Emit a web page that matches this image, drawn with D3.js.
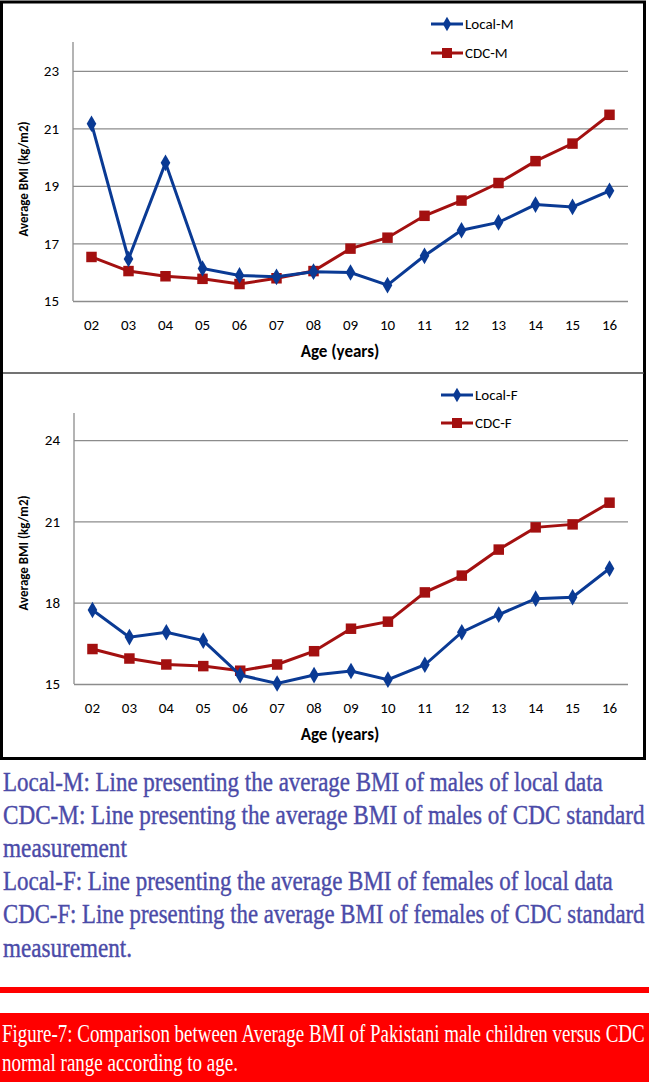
<!DOCTYPE html>
<html>
<head>
<meta charset="utf-8">
<script src="https://cdn.jsdelivr.net/npm/d3@7"></script>
<style>
  body { margin: 0; background: #fff; }
  svg { display: block; }
</style>
</head>
<body>
<div id="chart"></div>
<script>
// data
var ages = ["02","03","04","05","06","07","08","09","10","11","12","13","14","15","16"];
var localM = [21.16,16.46,19.80,16.13,15.89,15.84,16.02,15.99,15.55,16.57,17.46,17.73,18.35,18.27,18.83];
var cdcM   = [16.53,16.04,15.86,15.77,15.59,15.79,16.04,16.82,17.20,17.96,18.49,19.10,19.86,20.47,21.47];
var localF = [17.73,16.73,16.91,16.60,15.33,15.02,15.33,15.48,15.16,15.71,16.91,17.56,18.15,18.20,19.26];
var cdcF   = [16.29,15.94,15.72,15.66,15.49,15.72,16.21,17.04,17.30,18.38,19.00,19.96,20.78,20.89,21.69];
var topTicks = [15,17,19,21,23];
var bottomTicks = [15,18,21,24];

var noteLines = [
  "Local-M: Line presenting the average BMI of males of local data",
  "CDC-M: Line presenting the average BMI of males of CDC standard",
  "measurement",
  "Local-F: Line presenting the average BMI of females of local data",
  "CDC-F: Line presenting the average BMI of females of CDC standard",
  "measurement."
];
var noteWidths = [600, 642, 124, 610, 642, 129];
var captionLines = [
  "Figure-7: Comparison between Average BMI of Pakistani male children versus CDC",
  "normal range according to age."
];
var captionWidths = [643, 236];

const W = 650, H = 1082;
const blue = "#0a3a94", red = "#a31010";
const sans = "Carlito, 'Open Sans', sans-serif";
const serif = "'Liberation Serif', 'Times New Roman', serif";

const svg = d3.select("#chart").append("svg")
    .attr("width", W)
    .attr("height", H);

// frame around both charts
svg.append("rect")
    .attr("x", 1.5).attr("y", 2)
    .attr("width", 643).attr("height", 756.5)
    .attr("fill", "#fff")
    .attr("stroke", "#000")
    .attr("stroke-width", 3);

svg.append("line")
    .attr("x1", 3).attr("x2", 644)
    .attr("y1", 373).attr("y2", 373)
    .attr("stroke", "#444")
    .attr("stroke-width", 1.5);

function drawPanel(opt) {
    var g = svg.append("g");

    var x = d3.scaleBand()
        .domain(ages)
        .range([opt.left, 628]);

    var y = d3.scaleLinear()
        .domain(opt.domain)
        .range([opt.bottom, opt.top]);

    // gridlines
    g.append("g")
        .attr("transform", "translate(" + opt.left + ",0)")
        .call(d3.axisLeft(y).tickValues(opt.ticks).tickSize(-(628 - opt.left)).tickFormat(""))
        .call(function (a) {
            a.select(".domain").remove();
            a.selectAll("line").attr("stroke", "#8c8c8c").attr("stroke-width", 1.3);
        });

    // y axis line
    g.append("line")
        .attr("x1", opt.left).attr("x2", opt.left)
        .attr("y1", opt.top).attr("y2", opt.bottom)
        .attr("stroke", "#8c8c8c")
        .attr("stroke-width", 1.3);

    // y tick labels
    g.append("g")
        .attr("transform", "translate(" + opt.left + ",0)")
        .call(d3.axisLeft(y).tickValues(opt.ticks).tickSize(0).tickPadding(14))
        .call(function (a) {
            a.select(".domain").remove();
            a.selectAll("text")
                .style("font-family", sans)
                .style("font-size", "15px")
                .attr("fill", "#000");
        });

    // x tick labels
    g.append("g")
        .attr("transform", "translate(0," + opt.bottom + ")")
        .call(d3.axisBottom(x).tickSize(0).tickPadding(18))
        .call(function (a) {
            a.select(".domain").remove();
            a.selectAll("text")
                .style("font-family", sans)
                .style("font-size", "15px")
                .attr("fill", "#000");
        });

    g.append("text")
        .attr("x", 340)
        .attr("y", opt.bottom + 56)
        .attr("text-anchor", "middle")
        .style("font-family", sans)
        .style("font-size", "17px")
        .style("font-weight", "bold")
        .text("Age (years)");

    g.append("text")
        .attr("transform", "translate(28," + opt.ylabelY + ") rotate(-90)")
        .attr("text-anchor", "middle")
        .style("font-family", sans)
        .style("font-size", "13px")
        .style("font-weight", "bold")
        .text("Average BMI (kg/m2)");

    var line = d3.line()
        .x(function (d, i) { return x(ages[i]) + x.bandwidth() / 2; })
        .y(function (d) { return y(d); });

    var series = [
        { values: opt.red, color: red, shape: d3.symbolSquare, size: 110 },
        { values: opt.blue, color: blue, shape: d3.symbolDiamond, size: 80 }
    ];

    series.forEach(function (s) {
        g.append("path")
            .datum(s.values)
            .attr("fill", "none")
            .attr("stroke", s.color)
            .attr("stroke-width", 3)
            .attr("d", line);

        g.selectAll(null)
            .data(s.values)
            .enter()
            .append("path")
            .attr("transform", function (d, i) {
                return "translate(" + (x(ages[i]) + x.bandwidth() / 2) + "," + y(d) + ")";
            })
            .attr("d", d3.symbol().type(s.shape).size(s.size))
            .attr("fill", s.color);
    });

    // legend
    var leg = g.append("g")
        .attr("transform", "translate(" + opt.legX + "," + opt.legY + ")");
    var items = [
        { name: opt.names[0], color: blue, shape: d3.symbolDiamond, size: 60 },
        { name: opt.names[1], color: red, shape: d3.symbolSquare, size: 100 }
    ];
    items.forEach(function (it, i) {
        var row = leg.append("g").attr("transform", "translate(0," + (i * opt.legStep) + ")");
        row.append("line")
            .attr("x1", 0).attr("x2", 32)
            .attr("stroke", it.color)
            .attr("stroke-width", 3);
        row.append("path")
            .attr("transform", "translate(16,0)")
            .attr("d", d3.symbol().type(it.shape).size(it.size))
            .attr("fill", it.color);
        row.append("text")
            .attr("x", 34)
            .attr("dy", "0.35em")
            .style("font-family", sans)
            .style("font-size", "15px")
            .attr("fill", "#000")
            .text(it.name);
    });
}

drawPanel({
    left: 73, top: 42, bottom: 301,
    domain: [15, 24], ticks: topTicks,
    blue: localM, red: cdcM,
    names: ["Local-M", "CDC-M"],
    legX: 431, legY: 24, legStep: 29,
    ylabelY: 179
});

drawPanel({
    left: 74, top: 413, bottom: 684,
    domain: [15, 25], ticks: bottomTicks,
    blue: localF, red: cdcF,
    names: ["Local-F", "CDC-F"],
    legX: 441, legY: 395, legStep: 28,
    ylabelY: 553
});

// squeeze a line of text horizontally to a given width (the figure's serif is condensed)
function squeeze(sel, widths, x0, y0, step) {
    sel.each(function (d, i) {
        var len = this.getComputedTextLength();
        var sx = widths[i] / len;
        d3.select(this).attr("transform",
            "translate(" + x0 + "," + (y0 + i * step) + ") scale(" + sx + ",1)");
    });
}

// explanatory notes below the charts
var notes = svg.selectAll("text.note")
    .data(noteLines)
    .enter()
    .append("text")
    .attr("class", "note")
    .style("font-family", serif)
    .style("font-size", "27px")
    .attr("fill", "#4b4ba8")
    .attr("stroke", "#4b4ba8")
    .attr("stroke-width", 0.4)
    .text(function (d) { return d; });
squeeze(notes, noteWidths, 3, 791, 33.1);

// red rule and caption box
svg.append("rect")
    .attr("x", 0).attr("y", 987)
    .attr("width", 649).attr("height", 6)
    .attr("fill", "#ff0000");

svg.append("rect")
    .attr("x", 0).attr("y", 1013)
    .attr("width", 649).attr("height", H - 1013)
    .attr("fill", "#ff0000");

var caption = svg.selectAll("text.caption")
    .data(captionLines)
    .enter()
    .append("text")
    .attr("class", "caption")
    .style("font-family", serif)
    .style("font-size", "25px")
    .attr("fill", "#fff")
    .text(function (d) { return d; });
squeeze(caption, captionWidths, 2, 1042, 28.5);
</script>
</body>
</html>
